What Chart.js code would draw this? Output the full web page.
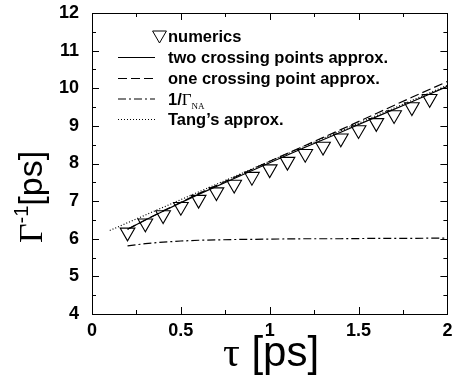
<!DOCTYPE html>
<html>
<head>
<meta charset="utf-8">
<script src="https://cdn.jsdelivr.net/npm/chart.js@4.4.1/dist/chart.umd.min.js"></script>
<style>
  html, body { margin: 0; padding: 0; background: #fff; }
</style>
</head>
<body>
<canvas id="chart" width="457" height="376"></canvas>
<script>
// numerics (triangles)
const tauNum = [0.2, 0.3, 0.4, 0.5, 0.6, 0.7, 0.8, 0.9, 1.0, 1.1, 1.2, 1.3, 1.4, 1.5, 1.6, 1.7, 1.8, 1.9];
const numerics = [6.17, 6.41, 6.63, 6.85, 7.04, 7.24, 7.44, 7.65, 7.85, 8.05, 8.26, 8.45, 8.67, 8.89, 9.08, 9.29, 9.50, 9.72];

// approximations
const tauApprox = [0.2, 0.3, 0.4, 0.5, 0.6, 0.8, 1.0, 1.2, 1.4, 1.6, 1.8, 2.0];
const twoCrossing = [6.25, 6.50, 6.73, 6.96, 7.18, 7.60, 8.02, 8.43, 8.83, 9.24, 9.64, 10.05];
const oneCrossing = [6.25, 6.50, 6.74, 6.97, 7.20, 7.63, 8.06, 8.48, 8.90, 9.33, 9.76, 10.18];
const gammaNA = [5.81, 5.87, 5.91, 5.94, 5.96, 5.98, 5.99, 6.00, 6.00, 6.01, 6.01, 6.02];

const tauTang = [0.1, 0.5, 1.0, 1.5, 2.0];
const tang = [6.22, 7.04, 8.06, 9.07, 10.08];

const xTicks = [0, 0.5, 1, 1.5, 2];
const yTicks = [4, 5, 6, 7, 8, 9, 10, 11, 12];

const legendLabels = ['numerics', 'two crossing points approx.', 'one crossing point approx.', '1/\u0393', "Tang\u2019s approx."];

const pts = (xs, ys) => xs.map((x, i) => ({ x: x, y: ys[i] }));

const SANS = '"Liberation Sans", Arial, Helvetica, sans-serif';
const SERIF = '"Liberation Serif", "Times New Roman", serif';

// inward ticks + frame, gnuplot style
const framePlugin = {
  id: 'frame',
  afterDatasetsDraw(chart) {
    const { ctx, chartArea: a, scales } = chart;
    const xs = scales.x, ys = scales.y;
    ctx.save();
    ctx.strokeStyle = '#000';
    ctx.lineWidth = 1;
    ctx.beginPath();
    for (let v = 0; v <= 2.0001; v += 0.25) {
      const px = Math.round(xs.getPixelForValue(v)) + 0.5;
      const len = Math.abs(v * 2 - Math.round(v * 2)) < 1e-6 ? 7 : 4;
      ctx.moveTo(px, a.bottom); ctx.lineTo(px, a.bottom - len);
      ctx.moveTo(px, a.top); ctx.lineTo(px, a.top + len);
    }
    for (let v = 4; v <= 12.0001; v += 0.5) {
      const py = Math.round(ys.getPixelForValue(v)) + 0.5;
      const len = Math.abs(v - Math.round(v)) < 1e-6 ? 7 : 4;
      ctx.moveTo(a.left, py); ctx.lineTo(a.left + len, py);
      ctx.moveTo(a.right, py); ctx.lineTo(a.right - len, py);
    }
    ctx.stroke();
    ctx.strokeRect(Math.round(a.left) + 0.5, Math.round(a.top) + 0.5,
      Math.round(a.right - a.left), Math.round(a.bottom - a.top));
    ctx.restore();
  }
};

// legend drawn inside the plot, top left
const legendPlugin = {
  id: 'gnuLegend',
  afterDraw(chart) {
    const ctx = chart.ctx;
    const ds = chart.data.datasets;
    const rows = [36, 57, 78, 98.5, 119];
    const x0 = 118, x1 = 155, tx = 168;
    ctx.save();
    ctx.fillStyle = '#000';
    ctx.strokeStyle = '#000';
    ctx.textBaseline = 'alphabetic';
    // triangle for numerics
    const r = 8, cx = 159.5, cy = rows[0] - 1;
    ctx.lineWidth = 1;
    ctx.beginPath();
    ctx.moveTo(cx - r * 0.866, cy - r / 2);
    ctx.lineTo(cx + r * 0.866, cy - r / 2);
    ctx.lineTo(cx, cy + r);
    ctx.closePath();
    ctx.stroke();
    for (let i = 0; i < legendLabels.length; i++) {
      const y = rows[i];
      if (i > 0) {
        ctx.setLineDash(ds[i].borderDash || []);
        ctx.lineWidth = 1.2;
        ctx.beginPath();
        ctx.moveTo(x0, y + 0.5);
        ctx.lineTo(x1, y + 0.5);
        ctx.stroke();
        ctx.setLineDash([]);
      }
      const base = y + 6;
      if (i === 3) {
        ctx.font = 'bold 16.5px ' + SANS;
        ctx.fillText('1/', tx, base);
        let w = ctx.measureText('1/').width;
        ctx.font = '17px ' + SERIF;
        ctx.fillText('\u0393', tx + w, base);
        w += ctx.measureText('\u0393').width;
        ctx.font = '9px ' + SERIF;
        ctx.fillText('NA', tx + w, base + 4);
      } else {
        ctx.font = 'bold 16.5px ' + SANS;
        ctx.fillText(legendLabels[i], tx, base);
      }
    }
    ctx.restore();
  }
};

// axis titles with Greek symbols and superscript
const titlePlugin = {
  id: 'titles',
  afterDraw(chart) {
    const ctx = chart.ctx;
    ctx.save();
    ctx.fillStyle = '#000';
    ctx.textBaseline = 'alphabetic';
    // y title: Γ^-1 [ps]
    ctx.translate(42, 197);
    ctx.rotate(-Math.PI / 2);
    const fG = '34px ' + SERIF, fS = '20px ' + SANS, fP = '34px ' + SANS;
    ctx.font = fG; const wG = ctx.measureText('\u0393').width;
    ctx.font = fS; const wS = ctx.measureText('-1').width;
    ctx.font = fP; const wP = ctx.measureText('[ps]').width;
    let x = -(wG + wS + wP) / 2;
    ctx.font = fG; ctx.fillText('\u0393', x, 0); x += wG;
    ctx.font = fS; ctx.fillText('-1', x, -14); x += wS;
    ctx.font = fP; ctx.fillText('[ps]', x, 0);
    ctx.setTransform(1, 0, 0, 1, 0, 0);
    // x title: τ [ps]
    const fT = '42px ' + SERIF, fX = '42px ' + SANS;
    ctx.font = fT; const wT = ctx.measureText('\u03c4').width;
    ctx.font = fX; const wX = ctx.measureText(' [ps]').width;
    let sx = 271 - (wT + wX) / 2;
    ctx.font = fT; ctx.fillText('\u03c4', sx, 366);
    ctx.font = fX; ctx.fillText(' [ps]', sx + wT, 366);
    ctx.restore();
  }
};

const lineStyle = { showLine: true, pointRadius: 0, borderColor: '#000', borderWidth: 1.2 };

new Chart(document.getElementById('chart'), {
  type: 'scatter',
  data: {
    datasets: [
      {
        label: 'numerics',
        data: pts(tauNum, numerics),
        showLine: false,
        pointStyle: 'triangle',
        rotation: 180,
        pointRadius: 8.5,
        pointBorderColor: '#000',
        pointBackgroundColor: 'rgba(0,0,0,0)',
        pointBorderWidth: 1.1
      },
      { label: 'two crossing points approx.', data: pts(tauApprox, twoCrossing), ...lineStyle, borderDash: [] },
      { label: 'one crossing point approx.', data: pts(tauApprox, oneCrossing), ...lineStyle, borderDash: [9, 4] },
      { label: '1/Gamma_NA', data: pts(tauApprox, gammaNA), ...lineStyle, borderDash: [8, 3, 2, 3] },
      { label: "Tang's approx.", data: pts(tauTang, tang), ...lineStyle, borderDash: [1, 2] }
    ]
  },
  options: {
    responsive: false,
    devicePixelRatio: 1,
    animation: false,
    layout: { padding: { top: 13, right: 4, left: 0, bottom: 0 } },
    plugins: { legend: { display: false }, tooltip: { enabled: false } },
    scales: {
      x: {
        type: 'linear', min: 0, max: 2,
        afterBuildTicks: s => { s.ticks = xTicks.map(v => ({ value: v })); },
        afterFit: s => { s.height = 62; s.paddingLeft = 0; s.paddingRight = 0; },
        grid: { display: false, drawTicks: false },
        border: { display: false },
        ticks: {
          color: '#000', padding: 6, maxRotation: 0,
          callback: v => String(v),
          font: { family: SANS, size: 18, weight: 'bold' }
        }
      },
      y: {
        type: 'linear', min: 4, max: 12,
        afterBuildTicks: s => { s.ticks = yTicks.map(v => ({ value: v })); },
        afterFit: s => { s.width = 92; s.paddingTop = 0; s.paddingBottom = 0; },
        grid: { display: false, drawTicks: false },
        border: { display: false },
        ticks: {
          color: '#000', padding: 13,
          callback: v => String(v),
          font: { family: SANS, size: 18, weight: 'bold' }
        }
      }
    }
  },
  plugins: [framePlugin, legendPlugin, titlePlugin]
});
</script>
</body>
</html>
